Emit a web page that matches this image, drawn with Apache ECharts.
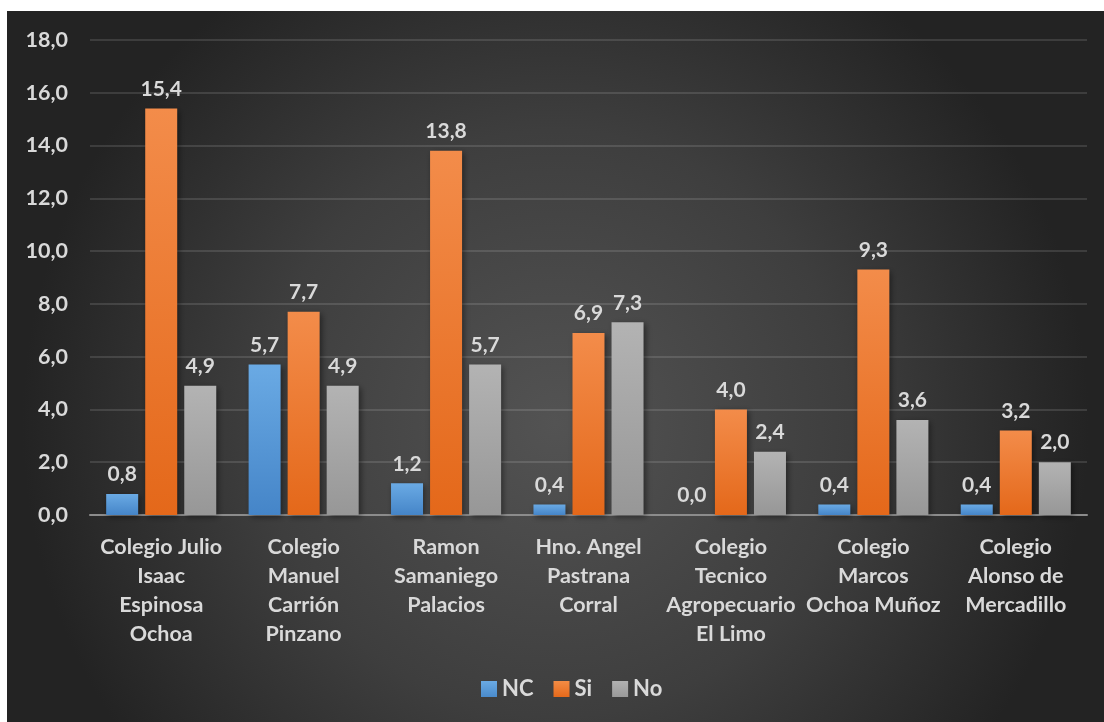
<!DOCTYPE html>
<html><head><meta charset="utf-8">
<script src="https://cdn.jsdelivr.net/npm/echarts@6/dist/echarts.min.js"></script>
<style>html,body{margin:0;padding:0;background:#fff}#c{width:1104px;height:722px}</style>
</head><body><div id="c"></div>
<script>
const categories = [
  'Colegio Julio\nIsaac\nEspinosa\nOchoa',
  'Colegio\nManuel\nCarrión\nPinzano',
  'Ramon\nSamaniego\nPalacios',
  'Hno. Angel\nPastrana\nCorral',
  'Colegio\nTecnico\nAgropecuario\nEl Limo',
  'Colegio\nMarcos\nOchoa Muñoz',
  'Colegio\nAlonso de\nMercadillo'
];
const ncValues = [0.8, 5.7, 1.2, 0.4, 0.0, 0.4, 0.4];
const siValues = [15.4, 7.7, 13.8, 6.9, 4.0, 9.3, 3.2];
const noValues = [4.9, 4.9, 5.7, 7.3, 2.4, 3.6, 2.0];
const yTicks = {min: 0, max: 18, interval: 2};

const FONT = 'Lato, "Open Sans", sans-serif';
const TXT = '#d9d9d9';
const fmt = v => v.toFixed(1).replace('.', ',');
function grad(top, bottom) {
  return {type: 'linear', x: 0, y: 0, x2: 0, y2: 1, colorStops: [{offset: 0, color: top}, {offset: 1, color: bottom}]};
}
function series(name, data, top, bottom) {
  return {
    name, type: 'bar', data,
    barWidth: 32, barGap: '22%',
    itemStyle: {color: grad(top, bottom), shadowColor: 'rgba(0,0,0,0.45)', shadowBlur: 6, shadowOffsetX: 2, shadowOffsetY: 2},
    label: {show: true, position: 'top', distance: 9, color: TXT, fontFamily: FONT, fontWeight: 'bold', fontSize: 21,
      formatter: p => fmt(p.value)}
  };
}
const chart = echarts.init(document.getElementById('c'), null, {renderer: 'canvas'});
chart.setOption({
  backgroundColor: '#ffffff',
  animation: false,
  graphic: [{
    type: 'rect', z: -10, silent: true,
    shape: {x: 7, y: 11, width: 1097, height: 711},
    style: {fill: {type: 'radial', x: 0.5, y: 0.58, r: 0.75, colorStops: [
      {offset: 0, color: '#535353'}, {offset: 0.55, color: '#3e3e3e'}, {offset: 1, color: '#232323'}]}}
  }],
  color: ['#5b9bd5', '#ed7d31', '#a5a5a5'],
  legend: {
    bottom: 17, left: 476, itemWidth: 16, itemHeight: 16, itemGap: 20, icon: 'rect',
    textStyle: {color: TXT, fontFamily: FONT, fontWeight: 'bold', fontSize: 22},
    data: [
      {name: 'NC', itemStyle: {color: grad('#6aaae4', '#4a8bcc')}},
      {name: 'Si', itemStyle: {color: grad('#f38c45', '#e5691b')}},
      {name: 'No', itemStyle: {color: grad('#b2b2b2', '#9a9a9a')}}
    ]
  },
  grid: {left: 90, right: 17, top: 40, bottom: 207, containLabel: false},
  xAxis: {
    type: 'category', data: categories,
    axisLine: {lineStyle: {color: '#8c8c8c', width: 2}},
    axisTick: {show: false},
    axisLabel: {color: TXT, fontFamily: FONT, fontWeight: 'bold', fontSize: 21.5, lineHeight: 29, margin: 18, interval: 0}
  },
  yAxis: {
    type: 'value', min: yTicks.min, max: yTicks.max, interval: yTicks.interval,
    axisLine: {show: false}, axisTick: {show: false},
    splitLine: {lineStyle: {color: 'rgba(255,255,255,0.12)', width: 2}},
    axisLabel: {color: TXT, fontFamily: FONT, fontWeight: 'bold', fontSize: 21.5, margin: 22, formatter: v => fmt(v)}
  },
  series: [
    series('NC', ncValues, '#6aaae4', '#4585c8'),
    series('Si', siValues, '#f38c4a', '#e4681a'),
    series('No', noValues, '#b3b3b3', '#979797')
  ]
});
</script></body></html>
